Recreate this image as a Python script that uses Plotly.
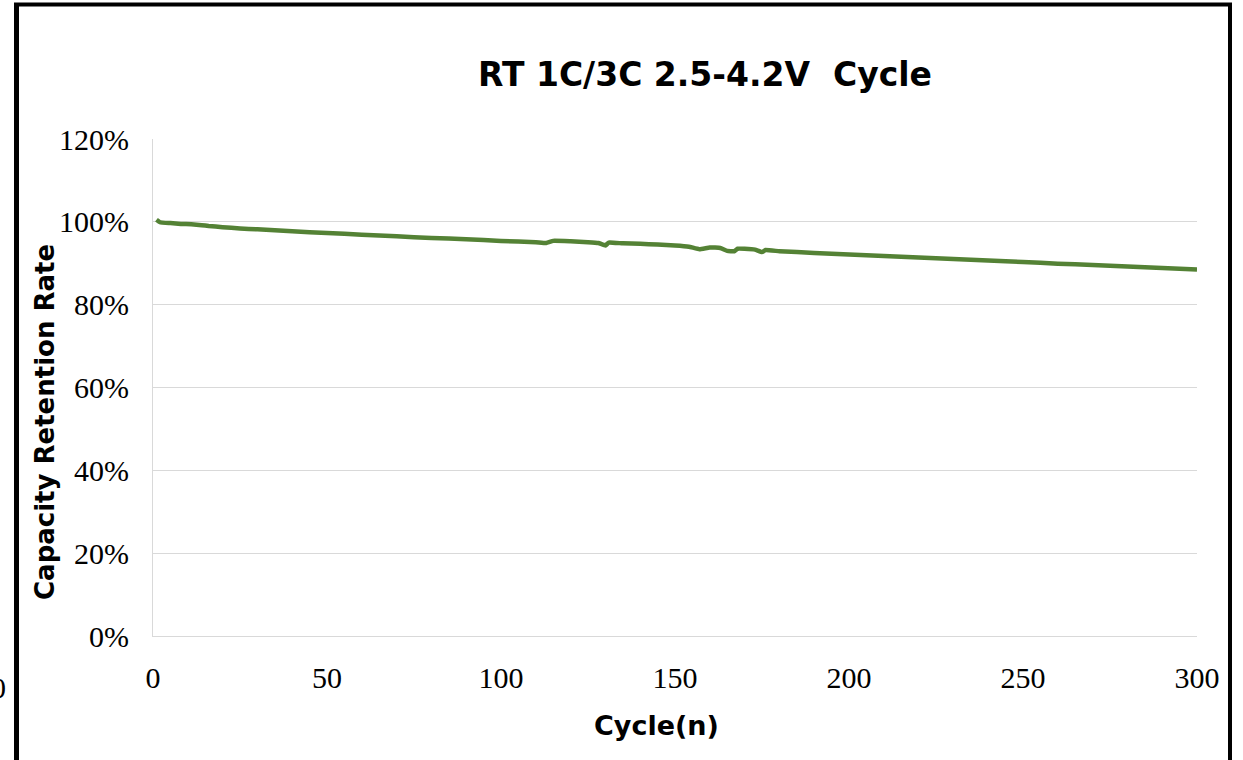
import plotly.graph_objects as go

# Data
cycles = [1, 2, 5, 8, 11, 14, 16, 20, 25, 30, 40, 50, 60, 70, 80, 90, 100, 110,
          113, 115, 120, 125, 128, 130, 131, 135, 140, 145, 150, 154, 157, 160,
          163, 165, 167, 168, 170, 173, 175, 176, 180, 190, 200, 210, 220, 230,
          240, 250, 260, 270, 280, 290, 300]
retention = [100.5, 99.9, 99.7, 99.5, 99.4, 99.2, 99.0, 98.7, 98.4, 98.2, 97.7,
             97.3, 96.9, 96.5, 96.1, 95.8, 95.4, 95.1, 94.9, 95.4, 95.3, 95.1,
             94.9, 94.3, 95.0, 94.8, 94.7, 94.5, 94.3, 94.0, 93.4, 93.8, 93.7,
             93.0, 92.9, 93.5, 93.5, 93.3, 92.7, 93.2, 92.9, 92.5, 92.1, 91.75,
             91.4, 91.0, 90.65, 90.3, 89.9, 89.6, 89.2, 88.85, 88.5]

x_ticks = [0, 50, 100, 150, 200, 250, 300]
y_ticks = [0, 20, 40, 60, 80, 100, 120]

title_text = "RT 1C/3C 2.5-4.2V  Cycle"
x_title = "Cycle(n)"
y_title = "Capacity Retention Rate"

W, H = 1243, 760
ML, MR, MT, MB = 153, 46, 139, 124
PW, PH = W - ML - MR, H - MT - MB


def px_x(px):
    return (px - ML) / PW


def px_y(py):
    return (H - MB - py) / PH


fig = go.Figure()
fig.add_trace(go.Scatter(
    x=cycles, y=retention, mode="lines",
    line=dict(color="#548235", width=4.5, shape="spline", smoothing=0.3),
    showlegend=False, hoverinfo="x+y",
))

tick_font = dict(family="Liberation Serif, Times New Roman, serif", size=30, color="#000000")
bold_font = "DejaVu Sans, Open Sans, sans-serif"

fig.update_layout(
    width=W, height=H,
    margin=dict(l=ML, r=MR, t=MT, b=MB, pad=0),
    paper_bgcolor="#ffffff", plot_bgcolor="#ffffff",
    title=dict(text="<b>" + title_text + "</b>", x=705 / W, xanchor="center",
               y=1 - 74 / H, yanchor="middle", xref="container", yref="container",
               font=dict(family=bold_font, size=33, color="#000000")),
    xaxis=dict(range=[0, 300], tickvals=x_ticks, ticktext=[str(v) for v in x_ticks],
               showgrid=False, zeroline=False, showline=True, linecolor="#d9d9d9",
               linewidth=1, ticks="", tickfont=tick_font, ticklabelstandoff=15),
    yaxis=dict(range=[0, 120], tickvals=y_ticks, ticktext=[f"{v}%" for v in y_ticks],
               showgrid=True, gridcolor="#d9d9d9", gridwidth=1, zeroline=False,
               showline=True, linecolor="#d9d9d9", linewidth=1, ticks="",
               tickfont=tick_font, ticklabelstandoff=17),
    annotations=[
        dict(text="<b>" + x_title + "</b>", x=px_x(656), y=px_y(725), xref="paper",
             yref="paper", showarrow=False, xanchor="center", yanchor="middle",
             font=dict(family=bold_font, size=27, color="#000000")),
        dict(text="<b>" + y_title + "</b>", x=px_x(45), y=px_y(422), xref="paper",
             yref="paper", showarrow=False, xanchor="center", yanchor="middle",
             textangle=-90, font=dict(family=bold_font, size=26, color="#000000")),
        dict(text="0", x=px_x(-2), y=px_y(687), xref="paper", yref="paper",
             showarrow=False, xanchor="center", yanchor="middle", font=tick_font),
    ],
    shapes=[
        dict(type="line", xref="paper", yref="paper", x0=px_x(16.5), x1=px_x(16.5),
             y0=px_y(4), y1=px_y(800), line=dict(color="#000000", width=5)),
        dict(type="line", xref="paper", yref="paper", x0=px_x(14), x1=px_x(1232),
             y0=px_y(4.5), y1=px_y(4.5), line=dict(color="#000000", width=4)),
        dict(type="line", xref="paper", yref="paper", x0=px_x(1230), x1=px_x(1230),
             y0=px_y(4), y1=px_y(800), line=dict(color="#000000", width=4)),
    ],
)

fig.write_html("out.html")
